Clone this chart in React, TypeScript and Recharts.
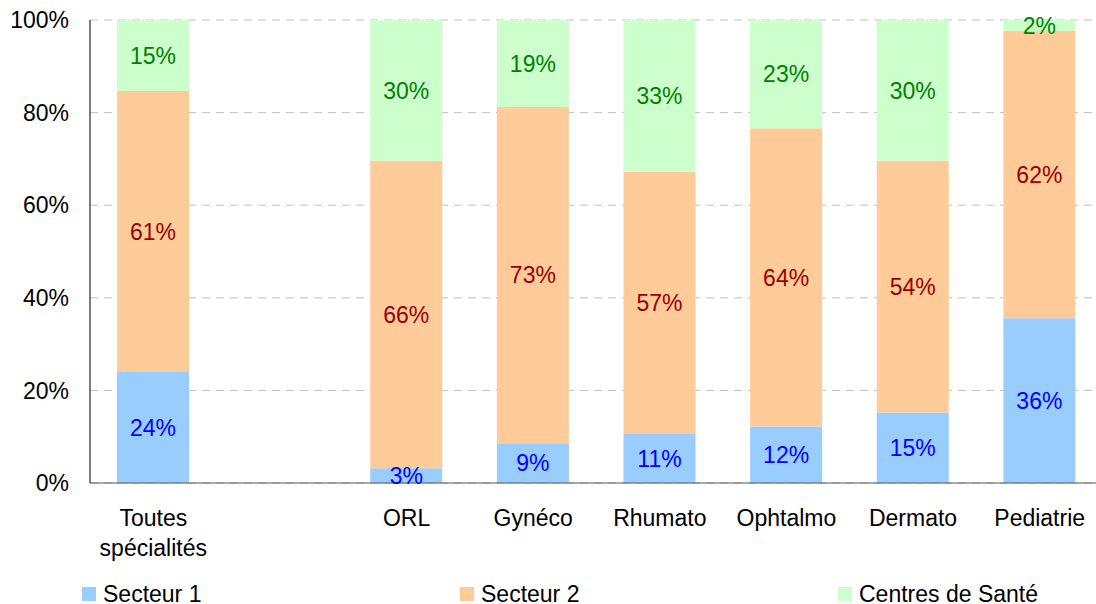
import React from "react"
import { BarChart, Bar, XAxis, YAxis, CartesianGrid, Legend, LabelList } from "recharts"

const categories = ["Toutes spécialités", "", "ORL", "Gynéco", "Rhumato", "Ophtalmo", "Dermato", "Pediatrie"]
const secteur1 = [24.0, null, 3.2, 8.6, 10.6, 12.2, 15.2, 35.6]
const secteur2 = [60.7, null, 66.4, 72.6, 56.6, 64.4, 54.4, 62.0]
const centres = [15.3, null, 30.4, 18.8, 32.8, 23.4, 30.4, 2.4]
const yTicks = [0, 20, 40, 60, 80, 100]

const series = [
  { key: "s1", name: "Secteur 1", fill: "#99CCFF", text: "#0000FF", left: 82 },
  { key: "s2", name: "Secteur 2", fill: "#FFCC99", text: "#990000", left: 460 },
  { key: "cds", name: "Centres de Santé", fill: "#CCFFCC", text: "#008000", left: 838 },
]

const data = categories.map((c, i) => ({
  name: c,
  s1: secteur1[i],
  s2: secteur2[i],
  cds: centres[i],
}))

const font = "'Liberation Sans', Arial, sans-serif"
const fs = 23

const XTick = (props: any) => {
  const { x, y, payload } = props
  const lines = String(payload.value).split(" ").filter(Boolean)
  return (
    <text x={x} y={y} textAnchor="middle" fontFamily={font} fontSize={fs} fill="#000">
      {lines.map((l, i) => (
        <tspan key={i} x={x} dy={i === 0 ? 35 : 30}>
          {l}
        </tspan>
      ))}
    </text>
  )
}

const LegendContent = () => (
  <div style={{ position: "relative", height: 26, fontFamily: font, fontSize: fs }}>
    {series.map((s) => (
      <div key={s.key} style={{ position: "absolute", left: s.left, top: 0, height: 26, display: "flex", alignItems: "center" }}>
        <span style={{ width: 14, height: 14, background: s.fill, display: "inline-block", marginRight: 7 }} />
        <span style={{ color: "#000", lineHeight: "26px" }}>{s.name}</span>
      </div>
    ))}
  </div>
)

const fmt = (v: any) => (v == null ? "" : `${Math.round(v)}%`)

export default function App() {
  return (
    <div style={{ position: "absolute", left: 0, top: 0, width: 1096, height: 604, overflow: "hidden", background: "#fff" }}>
      <BarChart
        width={1110}
        height={604}
        data={data}
        margin={{ top: 20, right: 7, left: 0, bottom: 0 }}
        barSize={72}
      >
        <CartesianGrid vertical={false} stroke="#c0c0c0" strokeDasharray="8 6" />
        <XAxis
          dataKey="name"
          tick={<XTick />}
          tickLine={false}
          stroke="#555"
          height={70}
          interval={0}
        />
        <YAxis
          domain={[0, 100]}
          ticks={yTicks}
          tickFormatter={(v) => `${v}%`}
          tickLine={false}
          tickSize={0}
          tickMargin={21}
          width={90}
          stroke="#000"
          tick={{ fill: "#000", fontSize: fs, fontFamily: font }}
          allowDataOverflow
        />
        <Legend
          verticalAlign="bottom"
          height={51}
          content={<LegendContent />}
          wrapperStyle={{ left: 0, width: 1110, top: 581, bottom: "auto" }}
        />
        {series.map((s) => (
          <Bar key={s.key} dataKey={s.key} name={s.name} stackId="a" fill={s.fill} isAnimationActive={false}>
            <LabelList
              dataKey={s.key}
              position="center"
              formatter={fmt}
              fill={s.text}
              fontSize={fs}
              fontFamily={font}
            />
          </Bar>
        ))}
      </BarChart>
    </div>
  )
}
